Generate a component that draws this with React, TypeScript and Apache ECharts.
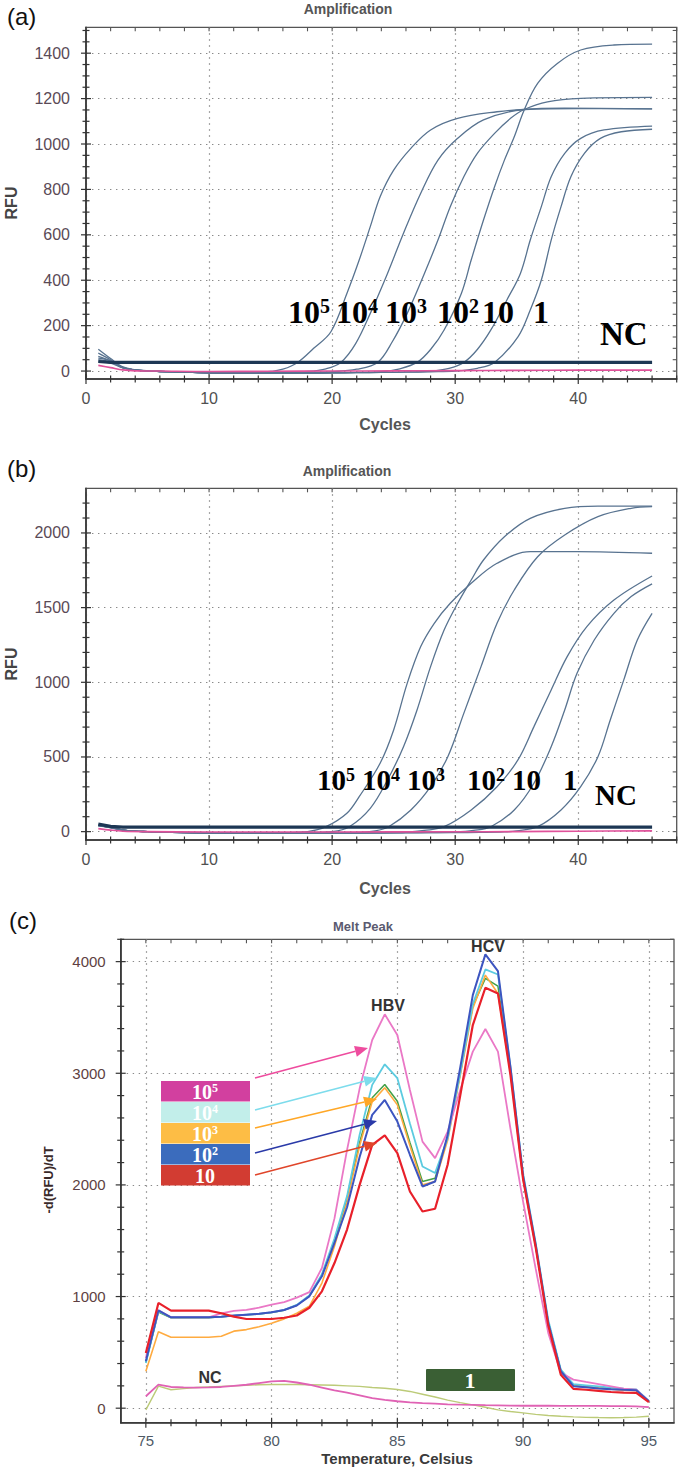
import React, { useEffect, useRef } from 'react';
import * as echarts from 'echarts';

// ---------- Panel (a): amplification, [cycle, RFU] ----------
const ampA_1e5 = [[1,96],[2,55],[3,18],[4,6],[5,1],[6,-1],[8,-4],[10,-7],[12,-8],[14,-6],[15,-2],[16,8],[17.2,38],[18.5,100],[19.9,173],[21.2,342],[22.2,489],[23.1,636],[23.9,768],[25,885],[26.4,981],[28,1062],[30.2,1113],[33.4,1142],[35.6,1152],[40,1156],[46,1155]];
const ampA_1e4 = [[1,57],[2,45],[3,15],[4,5],[5,0],[6,-2],[8,-5],[10,-8],[12,-9],[14,-8],[16,-6],[18,-2],[19.5,10],[20.7,38],[21.9,120],[23.1,254],[24.5,430],[25.8,607],[27.2,783],[28.6,929],[30.2,1025],[32.3,1106],[35.6,1152],[38.9,1158],[46,1155]];
const ampA_1e3 = [[1,79],[2,50],[3,16],[4,5],[5,0],[6,-2],[8,-5],[10,-8],[12,-9],[14,-9],[16,-8],[18,-6],[20,-3],[22,8],[23.7,38],[24.9,130],[26.1,254],[27.5,430],[28.6,577],[29.6,724],[30.7,856],[31.8,959],[33.2,1047],[34.5,1113],[35.6,1152],[37.5,1186],[40.2,1201],[46,1205]];
const ampA_1e2 = [[1,40],[2,35],[3,14],[4,4],[5,0],[6,-2],[8,-5],[10,-8],[12,-9],[14,-10],[16,-10],[18,-9],[20,-8],[22,-6],[24,-3],[25.5,10],[26.9,38],[28,95],[29.1,181],[30.5,342],[31.3,489],[32.3,665],[33.2,812],[34,929],[34.8,1032],[35.6,1149],[36.7,1267],[38.3,1355],[40.2,1414],[42.9,1436],[46,1440]];
const ampA_10 = [[1,65],[2,45],[3,15],[4,5],[5,0],[6,-2],[8,-5],[10,-8],[12,-9],[14,-10],[16,-10],[18,-9],[20,-8],[22,-7],[24,-6],[26,-4],[28,0],[29.5,12],[30.7,38],[31.8,95],[32.9,181],[34.2,313],[35.3,430],[36.1,577],[37,724],[37.8,856],[38.9,959],[40.2,1025],[42.1,1062],[46,1079]];
const ampA_1 = [[1,50],[2,40],[3,14],[4,4],[5,0],[6,-2],[8,-5],[10,-8],[12,-9],[14,-10],[16,-10],[18,-9],[20,-8],[22,-7],[24,-6],[26,-5],[28,-3],[30,0],[31.8,12],[33.2,38],[35.1,151],[36.1,269],[37,401],[37.8,577],[38.6,724],[39.4,856],[40.5,959],[41.8,1025],[43.5,1054],[46,1065]];
const ampA_threshold = [[1,42],[2,38],[46,38]];
const ampA_NC = [[1,25],[2,15],[3,5],[4,1],[6,0],[10,-2],[15,-1],[20,0],[25,1],[30,2],[35,3],[40,4],[46,4]];

// ---------- Panel (b): amplification, [cycle, RFU] ----------
const ampB_1e5 = [[1,45],[2,30],[3,12],[4,3],[5,0],[6,-3],[8,-6],[10,-8],[12,-9],[14,-9],[16,-7],[18,0],[19.5,33],[21.2,123],[22.2,234],[23.9,458],[25,681],[26.1,993],[27.2,1239],[28.3,1395],[29.6,1529],[31.3,1663],[33.4,1797],[36.1,1875],[39.9,1875],[46,1864]];
const ampB_1e4 = [[1,40],[2,28],[3,10],[4,3],[5,0],[6,-3],[8,-6],[10,-9],[12,-10],[14,-10],[16,-9],[18,-7],[20,0],[21.4,33],[23.1,156],[24.5,346],[25.8,569],[26.9,815],[28,1105],[29.1,1350],[30.2,1529],[31.3,1685],[32.3,1819],[34,1975],[36.1,2098],[38.9,2165],[41.6,2180],[46,2180]];
const ampB_1e3 = [[1,42],[2,28],[3,10],[4,3],[5,0],[6,-3],[8,-6],[10,-9],[12,-10],[14,-10],[16,-10],[18,-9],[20,-8],[22,-6],[23.5,5],[24.6,33],[26.4,145],[28,301],[29.4,502],[30.7,792],[32.1,1105],[33.4,1395],[34.8,1618],[36.7,1841],[38.9,1986],[41.6,2109],[44.3,2165],[46,2176]];
const ampB_1e2 = [[1,40],[2,27],[3,10],[4,3],[5,0],[6,-3],[8,-6],[10,-9],[12,-10],[14,-10],[16,-10],[18,-10],[20,-9],[22,-8],[24,-7],[26,-4],[27.5,8],[29.1,33],[31.3,145],[33.4,301],[35.1,480],[36.4,703],[37.8,949],[39.1,1172],[40.7,1373],[42.9,1551],[46,1712]];
const ampB_10 = [[1,38],[2,26],[3,10],[4,3],[5,0],[6,-3],[8,-6],[10,-9],[12,-10],[14,-10],[16,-10],[18,-10],[20,-10],[22,-9],[24,-8],[26,-7],[28,-6],[30,-3],[31.5,8],[32.9,33],[34.8,145],[36.4,324],[37.8,569],[38.9,815],[39.9,1060],[41.3,1283],[42.9,1462],[44.3,1574],[46,1659]];
const ampB_1 = [[1,40],[2,27],[3,10],[4,3],[5,0],[6,-3],[8,-6],[10,-9],[12,-10],[14,-10],[16,-10],[18,-10],[20,-10],[22,-10],[24,-9],[26,-8],[28,-7],[30,-6],[32,-5],[34,-2],[35,5],[36.7,33],[38.6,145],[40.2,301],[41.6,502],[42.6,748],[43.7,1016],[44.8,1283],[46,1462]];
const ampB_threshold = [[1,50],[2,35],[3,30],[46,30]];
const ampB_NC = [[1,20],[2,10],[3,3],[5,0],[10,-2],[20,-2],[30,-1],[35,0],[40,3],[46,5]];

// ---------- Panel (c): melt peak ----------
const meltT = [75,75.5,76,76.5,77,77.5,78,78.5,79,79.5,80,80.5,81,81.5,82,82.5,83,83.5,84,84.5,85,85.5,86,86.5,87,87.5,88,88.5,89,89.5,90,90.5,91,91.5,92,92.5,93,93.5,94,94.5,95];
const melt_1e5 = [450,877,814,814,814,814,850,871,880,900,927,950,990,1040,1256,1700,2314,2863,3298,3528,3343,2850,2388,2240,2478,2850,3194,3396,3194,2500,1850,1250,674,316,256,235,215,195,175,167,62];
const melt_1e4 = [405,868,814,814,814,814,820,830,838,845,859,880,925,1010,1200,1520,1900,2450,2896,3080,2956,2550,2165,2106,2418,3000,3620,3930,3885,3050,2100,1480,790,345,215,205,195,185,175,168,65];
const melt_1e3 = [331,684,636,636,636,636,645,690,704,730,760,800,850,913,1121,1450,1850,2350,2746,2871,2717,2350,2001,2031,2400,2980,3580,3879,3715,3000,2050,1450,770,335,200,190,180,170,160,158,62];
const melt_1e2 = [420,877,814,814,814,814,820,830,838,845,859,880,920,1002,1181,1480,1800,2250,2627,2761,2567,2270,1986,2031,2448,3050,3700,4065,3915,3050,2080,1464,764,331,197,187,177,170,165,161,62];
const melt_10 = [495,943,874,874,874,874,850,820,799,799,799,810,830,900,1047,1300,1600,2000,2359,2443,2285,1941,1762,1786,2180,2800,3432,3766,3715,2980,2050,1440,740,300,173,165,155,145,140,137,55];
const melt_green = [410,860,810,810,810,810,818,828,836,843,857,878,922,1005,1190,1500,1870,2380,2780,2900,2750,2380,2030,2060,2430,3000,3600,3850,3780,3020,2060,1455,770,335,200,190,180,172,166,162,62];
const melt_NC = [107,211,190,187,185,187,190,200,210,225,240,245,230,210,185,160,140,115,90,75,62,52,45,40,35,32,30,27,25,23,22,22,22,21,20,20,20,19,18,17,10];
const melt_1 = [-15,197,165,175,185,190,195,200,205,210,212,213,212,210,208,205,200,195,185,178,167,150,125,100,72,50,30,8,-15,-30,-42,-55,-65,-72,-78,-82,-84,-85,-84,-80,-72];

// ---------- Tick values ----------
const cycleLabels = [0,10,20,30,40];
const rfuALabels = [0,200,400,600,800,1000,1200,1400];
const rfuBLabels = [0,500,1000,1500,2000];
const tempLabels = [75,80,85,90,95];
const dfLabels = [0,1000,2000,3000,4000];
// [first tick, last tick, step]
const cycleMinorTicks = [0,48,2];
const rfuAMinorTicks = [0,1500,50];
const rfuBMinorTicks = [0,2200,100];
const tempMinorTicks = [75,95,1];
const dfMinorTicks = [0,4200,200];

const SANS = 'Liberation Sans, Arial, sans-serif';
const SERIF = 'Liberation Serif, Times New Roman, serif';
const plain = (v: number) => String(v);

const labAB = { xSize: 16, ySize: 16, xColor: '#505050', yColor: '#5a4a56', xMargin: 11, yMargin: 16 };
const labC = { xSize: 15, ySize: 15, xColor: '#4f5a66', yColor: '#5e3f42', xMargin: 10, yMargin: 15 };

const panels = [
  { L: 86, T: 27.3, W: 590.7, H: 351.7, xr: [0, 48], yr: [-35, 1514], xLab: cycleLabels, yLab: rfuALabels,
    xMin: cycleMinorTicks, yMin: rfuAMinorTicks, lab: labAB },
  { L: 86, T: 488.3, W: 590.7, H: 351.7, xr: [0, 48], yr: [-56, 2299], xLab: cycleLabels, yLab: rfuBLabels,
    xMin: cycleMinorTicks, yMin: rfuBMinorTicks, lab: labAB },
  { L: 120.7, T: 939.3, W: 553.3, H: 483.4, xr: [74, 96], yr: [-130, 4200], xLab: tempLabels, yLab: dfLabels,
    xMin: tempMinorTicks, yMin: dfMinorTicks, lab: labC },
];

const grids: any[] = [];
const xAxes: any[] = [];
const yAxes: any[] = [];
const dotted = { color: '#8a8a8a', width: 1.2, type: [1.4, 4.6] };
const frameDark = { color: '#333', width: 1.6 };

panels.forEach((p, gi) => {
  grids.push({ left: p.L, top: p.T, width: p.W, height: p.H, show: true, borderColor: '#555', borderWidth: 1.3,
    backgroundColor: 'transparent', containLabel: false, outerBoundsMode: 'none' });
  xAxes.push({ type: 'value', gridIndex: gi, min: p.xr[0], max: p.xr[1], position: 'bottom',
    axisLine: { show: true, onZero: false, lineStyle: frameDark },
    axisTick: { show: false, customValues: p.xLab },
    axisLabel: { customValues: p.xLab, formatter: plain, fontSize: p.lab.xSize, color: p.lab.xColor, margin: p.lab.xMargin, fontFamily: SANS },
    splitLine: { show: true, lineStyle: dotted } });
  yAxes.push({ type: 'value', gridIndex: gi, min: p.yr[0], max: p.yr[1], position: 'left',
    axisLine: { show: true, onZero: false, lineStyle: frameDark },
    axisTick: { show: false, customValues: p.yLab },
    axisLabel: { customValues: p.yLab, formatter: plain, fontSize: p.lab.ySize, color: p.lab.yColor, margin: p.lab.yMargin, fontFamily: SANS },
    splitLine: { show: true, lineStyle: dotted } });
});

function ampLine(gi: number, data: number[][], color: string, width: number, smooth = 0.35) {
  return { type: 'line', xAxisIndex: gi, yAxisIndex: gi, data, showSymbol: false, smooth,
    lineStyle: { color, width }, silent: true };
}
function meltLine(vals: number[], color: string, width: number) {
  return { type: 'line', xAxisIndex: 2, yAxisIndex: 2, data: meltT.map((t, i) => [t, vals[i]]), showSymbol: false,
    lineStyle: { color, width }, silent: true };
}

function txt(text: string, x: number, y: number, size: number, opts: any = {}) {
  return { type: 'text', x, y, rotation: opts.rotation || 0, z: 100,
    style: { text, fill: opts.color || '#222', font: `${opts.weight || 'normal'} ${size}px ${opts.family || SANS}`,
      align: opts.align || 'center', verticalAlign: opts.va || 'middle' } };
}
function powText(base: string, exp: string, x: number, y: number, size: number, supSize: number, color: string, align = 'left') {
  return { type: 'text', x, y, z: 100,
    style: { text: exp ? `{b|${base}}{s|${exp}}` : `{b|${base}}`, align, verticalAlign: 'middle',
      rich: {
        b: { fontSize: size, fontFamily: SERIF, fontWeight: 'bold', fill: color, lineHeight: size },
        s: { fontSize: supSize, fontFamily: SERIF, fontWeight: 'bold', fill: color, verticalAlign: 'top', lineHeight: supSize },
      } } };
}
function arrow(x1: number, y1: number, x2: number, y2: number, color: string) {
  const dx = x2 - x1, dy = y2 - y1; const L = Math.hypot(dx, dy);
  const ux = dx / L, uy = dy / L; const hl = 13, hw = 5.5;
  const bx = x2 - ux * hl, by = y2 - uy * hl;
  return [
    { type: 'line', z: 90, shape: { x1, y1, x2: bx, y2: by }, style: { stroke: color, lineWidth: 1.6 } },
    { type: 'polygon', z: 90, shape: { points: [[x2, y2], [bx - uy * hw, by + ux * hw], [bx + uy * hw, by - ux * hw]] }, style: { fill: color } },
  ];
}

const slate = '#587390';
const legendBoxes = [
  { base: '10', exp: '5', color: '#d2409f', y: 1081 },
  { base: '10', exp: '4', color: '#c2eeea', y: 1102 },
  { base: '10', exp: '3', color: '#fdbd45', y: 1123 },
  { base: '10', exp: '2', color: '#3b6cbd', y: 1144 },
  { base: '10', exp: '', color: '#d23c32', y: 1165 },
];

const graphicEls: any[] = [
  txt('(a)', 7, 16, 24, { align: 'left', color: '#111' }),
  txt('Amplification', 348, 9, 14, { weight: 'bold', color: '#555' }),
  txt('RFU', 11, 203, 16, { weight: 'bold', color: '#444', rotation: Math.PI / 2 }),
  txt('Cycles', 385, 424, 16, { weight: 'bold', color: '#555' }),
  txt('(b)', 7, 468, 24, { align: 'left', color: '#111' }),
  txt('Amplification', 347, 471, 14, { weight: 'bold', color: '#555' }),
  txt('RFU', 11, 664, 16, { weight: 'bold', color: '#444', rotation: Math.PI / 2 }),
  txt('Cycles', 385, 888, 16, { weight: 'bold', color: '#555' }),
  txt('(c)', 9, 920, 24, { align: 'left', color: '#111' }),
  txt('Melt Peak', 363, 926, 13, { weight: 'bold', color: '#5a5a70' }),
  txt('Temperature, Celsius', 397, 1458, 15, { weight: 'bold', color: '#3a3a3a' }),
  txt('-d(RFU)/dT', 48, 1180, 13, { weight: 'bold', color: '#3a2a2a', rotation: Math.PI / 2 }),
  txt('HBV', 388, 1005, 16, { weight: 'bold', color: '#333' }),
  txt('HCV', 488, 946, 16, { weight: 'bold', color: '#333' }),
  txt('NC', 210, 1377, 16, { weight: 'bold', color: '#333' }),
  powText('10', '5', 288, 312, 32, 20, '#000'),
  powText('10', '4', 336, 312, 32, 20, '#000'),
  powText('10', '3', 385, 312, 32, 20, '#000'),
  powText('10', '2', 437, 312, 32, 20, '#000'),
  powText('10', '', 482, 312, 32, 20, '#000'),
  powText('1', '', 533, 312, 32, 20, '#000'),
  powText('NC', '', 600, 334, 33, 20, '#000'),
  powText('10', '5', 317, 780, 29, 18, '#000'),
  powText('10', '4', 362, 780, 29, 18, '#000'),
  powText('10', '3', 407, 780, 29, 18, '#000'),
  powText('10', '2', 467, 780, 29, 18, '#000'),
  powText('10', '', 512, 780, 29, 18, '#000'),
  powText('1', '', 563, 780, 29, 18, '#000'),
  powText('NC', '', 595, 795, 29, 18, '#000'),
  { type: 'rect', z: 95, shape: { x: 426, y: 1369, width: 89, height: 22, r: 1 }, style: { fill: '#3a5f34' } },
  powText('1', '', 470, 1380, 22, 14, '#fff', 'center'),
];
legendBoxes.forEach((b) => {
  graphicEls.push({ type: 'rect', z: 95, shape: { x: 161, y: b.y, width: 89, height: 20.5 }, style: { fill: b.color } });
  graphicEls.push(powText(b.base, b.exp, 205, b.y + 10.5, 20, 12, '#fff', 'center'));
});
graphicEls.push(...arrow(255, 1078, 368, 1048, '#ee4c9e'));
graphicEls.push(...arrow(255, 1110, 377, 1078, '#7ddcec'));
graphicEls.push(...arrow(255, 1128, 377, 1099, '#ffa726'));
graphicEls.push(...arrow(255, 1153, 377, 1121, '#2a3aa8'));
graphicEls.push(...arrow(255, 1175, 377, 1143, '#e0452a'));

const option: any = {
  animation: false,
  backgroundColor: '#ffffff',
  grid: grids,
  xAxis: xAxes,
  yAxis: yAxes,
  series: [
    ampLine(0, ampA_1e5, slate, 1.3),
    ampLine(0, ampA_1e4, slate, 1.3),
    ampLine(0, ampA_1e3, slate, 1.3),
    ampLine(0, ampA_1e2, slate, 1.3),
    ampLine(0, ampA_10, slate, 1.3),
    ampLine(0, ampA_1, slate, 1.3),
    ampLine(0, ampA_threshold, '#1d3754', 3.2, 0),
    ampLine(0, ampA_NC, '#e0529a', 1.6),
    ampLine(1, ampB_1e5, slate, 1.3),
    ampLine(1, ampB_1e4, slate, 1.3),
    ampLine(1, ampB_1e3, slate, 1.3),
    ampLine(1, ampB_1e2, slate, 1.3),
    ampLine(1, ampB_10, slate, 1.3),
    ampLine(1, ampB_1, slate, 1.3),
    ampLine(1, ampB_threshold, '#1d3754', 3.2, 0),
    ampLine(1, ampB_NC, '#e0529a', 1.6),
    meltLine(melt_green, '#43a047', 1.5),
    meltLine(melt_1e3, '#ffab40', 1.6),
    meltLine(melt_1e4, '#5ccbe0', 1.8),
    meltLine(melt_1e5, '#ea78c6', 1.8),
    meltLine(melt_1e2, '#3d55c0', 2),
    meltLine(melt_10, '#e8202a', 2.2),
    meltLine(melt_1, '#bccb78', 1.4),
    meltLine(melt_NC, '#e062b4', 1.8),
  ],
  graphic: { elements: graphicEls },
};

// Tick marks placed with the chart's own scales (convertToPixel)
function tickMarks(chart: any) {
  const els: any[] = [];
  const seg = (x1: number, y1: number, x2: number, y2: number, color: string, w: number) =>
    ({ type: 'line', z: 80, silent: true, shape: { x1, y1, x2, y2 }, style: { stroke: color, lineWidth: w } });
  panels.forEach((p, gi) => {
    const px = (x: number, y: number) => chart.convertToPixel({ gridIndex: gi }, [x, y]);
    const yBot = px(p.xr[0], p.yr[0])[1];
    const yTop = px(p.xr[0], p.yr[1])[1];
    const xLeft = px(p.xr[0], p.yr[0])[0];
    const xRight = px(p.xr[1], p.yr[0])[0];
    const majX = new Set(p.xLab);
    const majY = new Set(p.yLab);
    for (let v = p.xMin[0]; v <= p.xMin[1] + 1e-9; v += p.xMin[2]) {
      const x = px(v, p.yr[0])[0];
      const len = majX.has(v) ? 5 : 3.5;
      els.push(seg(x, yBot - len, x, yBot + len, '#333', 1.2));
      els.push(seg(x, yTop, x, yTop + 4, '#555', 1.1));
    }
    for (let v = p.yMin[0]; v <= p.yMin[1] + 1e-9; v += p.yMin[2]) {
      const y = px(p.xr[0], v)[1];
      const len = majY.has(v) ? 5 : 3.5;
      els.push(seg(xLeft - len, y, xLeft + len, y, '#333', 1.2));
      els.push(seg(xRight - 4, y, xRight, y, '#555', 1.1));
    }
  });
  return els;
}

export default function App() {
  const ref = useRef<HTMLDivElement>(null);
  useEffect(() => {
    const chart = echarts.init(ref.current as HTMLDivElement, null, { renderer: 'svg' });
    chart.setOption(option);
    chart.setOption({ graphic: { elements: [...graphicEls, ...tickMarks(chart)] } });
    return () => chart.dispose();
  }, []);
  return (
    <div
      ref={ref}
      style={{ position: 'absolute', left: 0, top: 0, width: 685, height: 1472, background: '#fff' }}
    />
  );
}
